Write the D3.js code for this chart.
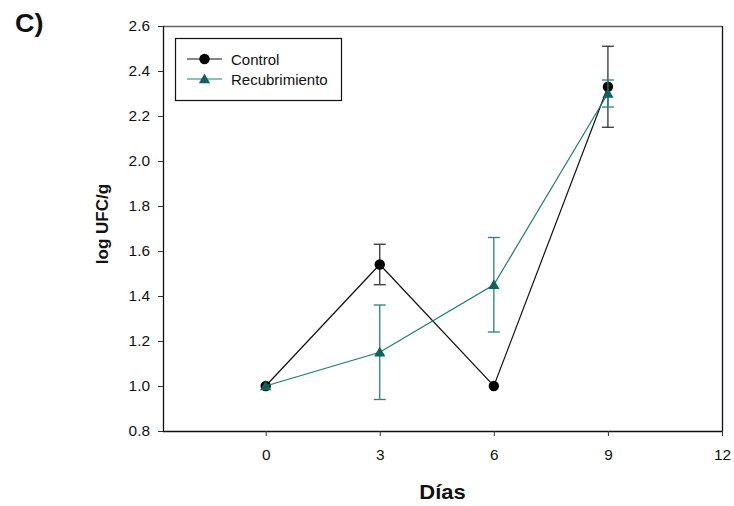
<!DOCTYPE html>
<html>
<head>
<meta charset="utf-8">
<script src="https://cdn.jsdelivr.net/npm/d3@7"></script>
<style>
  html, body { margin: 0; padding: 0; background: #fff; }
  svg { display: block; font-family: "Liberation Sans", Arial, sans-serif; }
</style>
</head>
<body>
<svg id="chart" width="734" height="506"></svg>
<script>
// Sampling days
const days = [0, 3, 6, 9];

// Control series: mean log UFC/g and standard error
const controlMean = [1.00, 1.54, 1.00, 2.33];
const controlErr  = [0.00, 0.09, 0.00, 0.18];

// Coated (recubrimiento) series
const recubMean = [1.00, 1.15, 1.45, 2.30];
const recubErr  = [0.00, 0.21, 0.21, 0.06];

// Axis ticks
const xTicks = [0, 3, 6, 9, 12];
const yTicks = [0.8, 1.0, 1.2, 1.4, 1.6, 1.8, 2.0, 2.2, 2.4, 2.6];

const seriesNames = ["Control", "Recubrimiento"];

const svg = d3.select("#chart");
const plotL = 163, plotR = 722, plotT = 26, plotB = 431;
const stretch = 1.1; // slightly wide lettering

const x = d3.scaleLinear().domain([-2.7, 12]).range([plotL, plotR]);
const y = d3.scaleLinear().domain([0.8, 2.6]).range([plotB, plotT]);

const series = [
  { name: seriesNames[0], mean: controlMean, err: controlErr, line: "#111", mark: "#000", shape: d3.symbolCircle, size: 85, bar: "#333" },
  { name: seriesNames[1], mean: recubMean, err: recubErr, line: "#1d7a76", mark: "#0f625e", shape: d3.symbolTriangle, size: 55, bar: "#2b807c" }
];

// Frame (top and right edges)
svg.append("line").attr("x1", plotL).attr("x2", plotR).attr("y1", plotT + 0.5).attr("y2", plotT + 0.5)
  .attr("stroke", "#666").attr("stroke-width", 1.3);
svg.append("line").attr("x1", plotR + 0.5).attr("x2", plotR + 0.5).attr("y1", plotT).attr("y2", plotB)
  .attr("stroke", "#111").attr("stroke-width", 1.3);

// Axes
const xAxis = svg.append("g").attr("transform", `translate(0,${plotB})`)
  .call(d3.axisBottom(x).tickValues(xTicks).tickSize(5).tickPadding(14).tickFormat(d3.format("d")));
const yAxis = svg.append("g").attr("transform", `translate(${plotL},0)`)
  .call(d3.axisLeft(y).tickValues(yTicks).tickSize(5).tickPadding(8).tickFormat(d3.format(".1f")));

[xAxis, yAxis].forEach(g => {
  g.select(".domain").attr("stroke", "#111").attr("stroke-width", 1.3);
  g.selectAll(".tick line").attr("stroke", "#333");
  g.selectAll(".tick text").attr("font-size", 14).attr("fill", "#111")
    .attr("font-family", "'Liberation Sans', Arial, sans-serif")
    .attr("transform", `scale(${stretch},1)`);
});
yAxis.selectAll(".tick text").attr("x", -13 / stretch);
xAxis.select(".domain").attr("d", `M${plotL},0.5H${plotR}`);
yAxis.select(".domain").attr("d", `M0.5,${plotB}V${plotT}`);

// Lines, error bars and markers
series.forEach(s => {
  const pts = days.map((d, i) => ({ d, v: s.mean[i], e: s.err[i] }));
  svg.append("path").datum(pts)
    .attr("fill", "none").attr("stroke", s.line).attr("stroke-width", 1.2)
    .attr("d", d3.line().x(p => x(p.d)).y(p => y(p.v)));

  const eb = svg.append("g").attr("stroke", s.bar).attr("stroke-width", 1.3);
  pts.filter(p => p.e > 0).forEach(p => {
    const cx = x(p.d);
    eb.append("line").attr("x1", cx).attr("x2", cx).attr("y1", y(p.v - p.e)).attr("y2", y(p.v + p.e));
    [p.v - p.e, p.v + p.e].forEach(v => {
      eb.append("line").attr("x1", cx - 6).attr("x2", cx + 6).attr("y1", y(v)).attr("y2", y(v));
    });
  });

  svg.append("g").selectAll("path").data(pts).join("path")
    .attr("transform", p => `translate(${x(p.d)},${y(p.v) + (s.shape === d3.symbolTriangle ? 1 : 0)})`)
    .attr("d", d3.symbol().type(s.shape).size(s.size))
    .attr("fill", s.mark);
});

// Legend
const lg = svg.append("g");
lg.append("rect").attr("x", 175.5).attr("y", 38.5).attr("width", 166).attr("height", 62)
  .attr("fill", "#fff").attr("stroke", "#111").attr("stroke-width", 1.2);
series.forEach((s, i) => {
  const ly = 59 + i * 20;
  lg.append("line").attr("x1", 187).attr("x2", 222).attr("y1", ly).attr("y2", ly)
    .attr("stroke", s.line).attr("stroke-width", 1.2);
  lg.append("path").attr("transform", `translate(204.5,${ly + (s.shape === d3.symbolTriangle ? 1 : 0)})`)
    .attr("d", d3.symbol().type(s.shape).size(s.size)).attr("fill", s.mark);
  lg.append("text").attr("x", 231).attr("y", ly + 5.5).attr("font-size", 15).attr("fill", "#111")
    .text(s.name);
});

// Axis titles and panel letter
svg.append("text").attr("transform", `translate(${(plotL + plotR) / 2},499) scale(${stretch},1)`)
  .attr("text-anchor", "middle")
  .attr("font-size", 20).attr("font-weight", "bold").attr("fill", "#111").text("Días");
svg.append("text").attr("transform", "translate(108,224) rotate(-90)").attr("text-anchor", "middle")
  .attr("font-size", 17).attr("font-weight", "bold").attr("fill", "#111").text("log UFC/g");
svg.append("text").attr("transform", "translate(15,32) scale(1.08,1)").attr("font-size", 25).attr("font-weight", "bold")
  .attr("fill", "#111").text("C)");
</script>
</body>
</html>
